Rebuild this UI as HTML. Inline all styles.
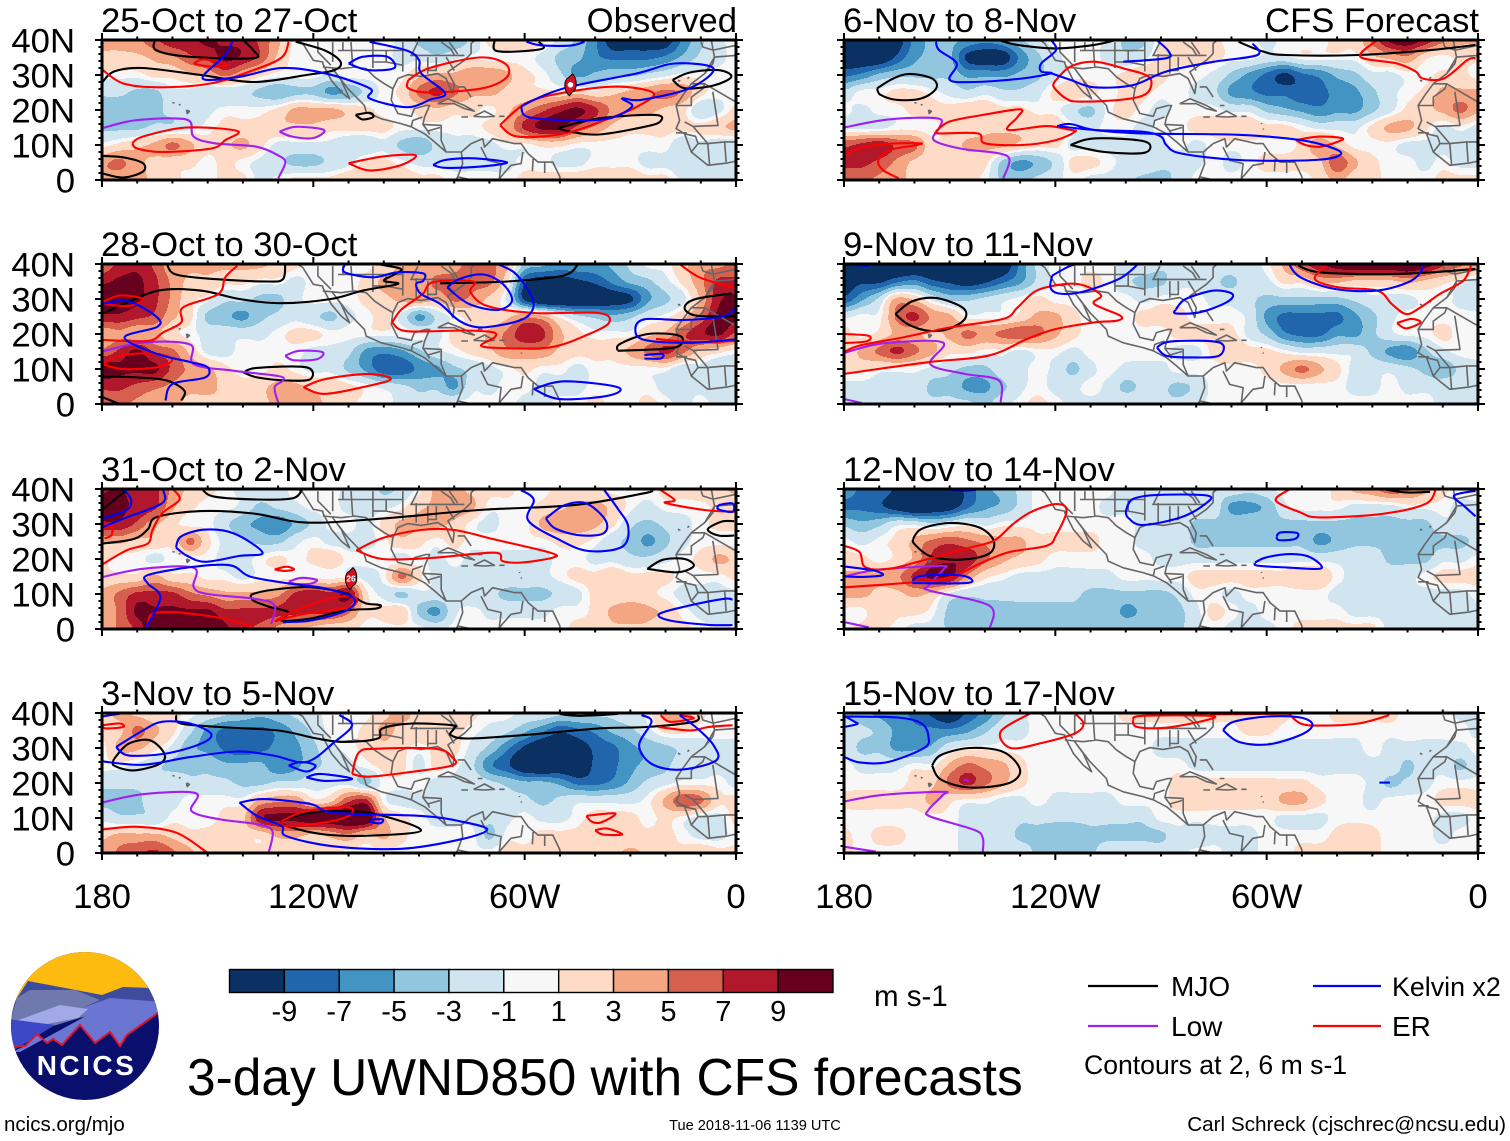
<!DOCTYPE html>
<html lang="en">
<head>
<meta charset="utf-8">
<title>3-day UWND850 with CFS forecasts</title>
<style>
html,body{margin:0;padding:0;background:#fff;width:1510px;height:1141px;overflow:hidden}
svg{display:block;font-family:"Liberation Sans",sans-serif}
</style>
</head>
<body>
<svg id="chart" xmlns="http://www.w3.org/2000/svg" width="1510" height="1141" viewBox="0 0 1510 1141">
  <rect x="0" y="0" width="1510" height="1141" fill="#fff"/>
  <g id="panels"></g>
  <g font-size="34.7" fill="#000">
    <text x="101" y="32">25-Oct to 27-Oct</text>
    <text x="737" y="32" text-anchor="end">Observed</text>
    <text x="101" y="256">28-Oct to 30-Oct</text>
    <text x="101" y="481">31-Oct to 2-Nov</text>
    <text x="101" y="705">3-Nov to 5-Nov</text>
    <text x="843" y="32">6-Nov to 8-Nov</text>
    <text x="1479" y="32" text-anchor="end">CFS Forecast</text>
    <text x="843" y="256">9-Nov to 11-Nov</text>
    <text x="843" y="481">12-Nov to 14-Nov</text>
    <text x="843" y="705">15-Nov to 17-Nov</text>
  </g>
  <g id="colorbar"></g>
  <text x="874" y="1006" font-size="29.5">m s-1</text>
  <g>
    <line x1="1088" x2="1158" y1="986" y2="986" stroke="#000" stroke-width="2.2"/>
    <text x="1171" y="996" font-size="28">MJO</text>
    <line x1="1088" x2="1158" y1="1026" y2="1026" stroke="#a020f0" stroke-width="2.2"/>
    <text x="1171" y="1036" font-size="28">Low</text>
    <line x1="1313" x2="1381" y1="986" y2="986" stroke="#0000ff" stroke-width="2.2"/>
    <text x="1392" y="996" font-size="26.8">Kelvin x2</text>
    <line x1="1313" x2="1381" y1="1026" y2="1026" stroke="#ff0000" stroke-width="2.2"/>
    <text x="1392" y="1036" font-size="28">ER</text>
    <text x="1084" y="1074" font-size="26.6">Contours at 2, 6 m s-1</text>
  </g>
  <text x="187" y="1095" font-size="51.5">3-day UWND850 with CFS forecasts</text>
  <text x="4" y="1131" font-size="20.5">ncics.org/mjo</text>
  <text x="755" y="1130" font-size="14.6" text-anchor="middle">Tue 2018-11-06 1139 UTC</text>
  <text x="1506" y="1131" font-size="20.7" text-anchor="end">Carl Schreck (cjschrec@ncsu.edu)</text>
  <g>
    <defs><clipPath id="logo-clip"><circle cx="85" cy="1026" r="74"/></clipPath></defs>
    <g clip-path="url(#logo-clip)">
      <rect x="10" y="950" width="150" height="152" fill="#0a0f6e"/>
      <rect x="10" y="950" width="150" height="55" fill="#fdba0f"/>
      <polygon points="8,1012 28,981 60,987 102,995 123,987 152,988 162,1012 90,1018" fill="#3f4c9e"/>
      <polygon points="10,1022 17,998 30,990 75,990 100,1000 82,1008 86,1016 40,1030" fill="#7079ad"/>
      <polygon points="162,1002 110,998 82,1008 86,1016 20,1052 12,1052 25,1046 37,1034 47,1043 53,1039 62,1045 80,1025 95,1043 110,1032 120,1046 127,1035 162,1010" fill="#6b76d3"/>
      <polygon points="16,1021 60,1005 88,1009 78,1018 42,1025 16,1023" fill="#a3a9e6"/>
      <polygon points="8,1019 55,1025 14,1050 8,1050" fill="#3c48c6"/>
      <polyline points="12,1046 25,1046 37,1034 47,1043 53,1039 62,1045 80,1025 95,1043 110,1032 120,1046 127,1035 162,1010" fill="none" stroke="#e0142c" stroke-width="2"/>
    </g>
    <text x="86.5" y="1075" text-anchor="middle" font-size="28" font-weight="bold" letter-spacing="2.5" fill="#fff">NCICS</text>
  </g>
</svg>
<script>
/* Zonal wind anomaly: rows 40N,35N,...,0; columns 180,175W,...,0 */
const panel1Values=[
[3,3,4,6,8,8,9,8,8,6,3,0,0,0,0,0,0,-1,-3,-4,-4,-2,1,2,2,1,-1,-3,-6,-10,-10,-10,-10,-6,-3,-1,0],
[2,2,2,3,4,6,7,9,8,6,2,0,0,0,0,0,0,-1,-1,-2,-1,0,0,0,0,-1,-3,-4,-6,-7,-7,-7,-6,-4,-2,-1,0],
[0,0,0,1,1,2,3,5,3,1,0,0,0,-1,0,0,0,0,2,3,3,4,4,3,1,0,-2,-5,-4,-3,-3,-2,-1,0,0,0,0],
[-2,-2,-3,-3,-1,-1,-2,-2,-2,-3,-4,-3,-3,-5,-4,-2,0,1,5,7,5,3,3,2,1,1,1,2,1,2,3,4,5,4,1,0,0],
[-4,-4,-4,-3,-2,-2,-1,0,0,0,1,3,3,3,2,1,0,0,1,2,1,1,0,2,4,6,8,9,7,4,3,3,2,1,-2,-1,1],
[-3,-3,-3,-2,-2,-1,0,1,1,1,2,2,2,1,1,1,1,0,0,0,0,0,1,3,7,9,9,6,4,2,1,1,1,1,1,2,3],
[0,1,2,3,5,3,1,2,3,1,-1,-1,-1,-1,-2,-2,-1,-3,-4,-2,-1,-1,-1,0,0,1,1,0,0,0,0,0,0,-2,-1,-2,-2],
[4,5,3,2,1,1,0,1,0,-1,-2,-3,-3,-2,-1,1,1,0,-1,-1,-1,-1,-1,-1,0,0,-1,-1,0,0,0,-1,-1,-2,-2,-2,-2],
[4,3,3,2,1,0,0,1,1,-1,0,1,1,1,2,2,2,2,1,1,0,0,0,0,1,1,2,2,2,2,2,1,1,-1,-2,-2,-2]];
const panel2Values=[
[5,7,8,6,3,3,3,3,3,3,2,1,0,0,0,0,1,3,4,3,4,5,5,3,-3,-4,-5,-5,-5,-4,-2,0,0,2,4,4,5],
[8,9,9,7,4,2,2,1,1,0,0,-1,0,0,0,1,3,3,3,5,5,5,5,1,-8,-10,-10,-9,-8,-6,-4,-3,-1,1,4,7,7],
[11,10,9,7,4,1,0,-2,-2,-3,-3,-1,0,0,0,1,2,3,4,3,5,4,2,-1,-9,-12,-12,-12,-11,-10,-9,-5,-3,-1,3,8,9],
[8,8,7,6,3,1,-3,-4,-5,-3,-2,-1,-2,-3,-1,0,1,-1,-5,-2,0,1,1,2,4,3,0,-2,-3,-4,-3,-1,0,2,5,9,9],
[3,4,3,3,1,0,-1,-1,-1,-1,0,1,1,0,0,0,0,0,0,-1,1,1,3,5,8,7,3,1,0,0,0,2,3,6,8,9,6],
[5,7,9,6,5,2,-1,-1,0,0,0,0,-1,-1,-2,-5,-6,-5,-3,-1,0,1,2,4,4,4,2,1,1,1,3,5,7,5,2,1,0],
[10,9,9,9,6,4,3,1,0,0,1,0,-1,-1,-3,-5,-8,-8,-6,-5,-3,-2,-1,0,1,0,0,-1,0,0,0,0,0,-2,-1,-2,-2],
[7,7,6,5,4,3,3,2,1,2,3,3,2,2,1,0,-1,-2,-3,-3,-5,-1,-1,0,0,-1,-1,-1,0,0,0,0,-1,-1,-1,-2,-2],
[5,5,4,3,3,2,2,2,1,2,3,4,3,2,1,0,0,-1,-2,-1,0,0,0,0,-1,-1,0,0,1,0,0,1,0,-1,0,-1,-1]];
const panel3Values=[
[8,9,7,7,4,2,1,0,-1,-1,-1,0,0,0,-1,-1,-3,-2,0,3,3,2,1,1,0,0,1,1,1,0,0,0,1,1,2,2,3],
[10,9,8,7,3,1,0,0,-1,-3,-2,-1,0,0,-1,-1,-1,0,2,3,4,3,0,0,0,1,2,3,3,2,0,-1,0,0,0,1,1],
[8,8,6,3,1,0,0,-2,-4,-5,-6,-4,-2,0,0,-1,1,3,3,3,2,0,-1,0,0,3,4,4,3,1,-2,-3,-2,-1,0,1,1],
[3,3,2,2,1,5,1,-1,-2,-3,-3,-1,0,-1,-1,-1,0,2,1,0,1,0,0,0,0,0,1,1,0,-2,-3,-5,-3,-1,0,0,0],
[1,0,0,-1,0,0,0,-1,-1,0,1,0,1,2,0,0,0,-1,0,-1,0,-1,-1,-1,-1,-1,0,0,-1,-1,-2,-2,-1,0,1,3,2],
[1,1,1,3,1,1,0,0,-1,0,0,0,0,0,0,-1,0,5,1,-1,-1,-1,-1,-1,-1,-1,0,1,1,2,1,1,1,0,0,0,1],
[3,5,7,7,7,5,4,3,3,3,4,7,8,7,9,1,-1,-3,-1,-1,-1,-2,-2,-3,-3,-3,-2,-1,1,1,1,1,0,-1,-1,-1,-1],
[3,5,9,9,9,9,9,7,7,7,7,7,7,7,5,1,1,2,-3,-5,-1,0,-1,-1,-1,-1,0,0,1,3,4,3,2,0,-1,-2,-2],
[3,5,7,11,11,11,11,9,7,6,4,3,2,1,1,0,0,0,0,-1,0,0,0,0,0,0,0,1,1,2,2,2,1,1,0,0,0]];
const panel4Values=[
[2,3,2,1,1,0,-1,-2,-3,-4,-3,-2,-1,0,0,0,2,3,2,2,2,1,0,0,-1,-1,-2,-2,-2,-2,-1,0,3,4,1,0,0],
[1,2,5,3,1,-2,-5,-7,-7,-7,-6,-4,-2,0,0,1,3,2,2,2,1,0,-1,-2,-4,-6,-8,-7,-6,-4,-3,-1,1,1,0,0,0],
[0,3,3,1,-1,-4,-5,-7,-8,-7,-6,-5,-3,-1,0,1,2,1,0,1,1,-1,-3,-6,-9,-11,-11,-10,-8,-7,-5,-4,-3,-2,-1,-1,-1],
[0,0,-1,-2,-3,-3,-3,-4,-4,-4,-6,-5,-3,-2,-1,0,1,1,-1,1,0,-2,-6,-8,-11,-12,-11,-11,-8,-7,-5,-4,-3,-1,-1,-1,-1],
[-2,-2,-2,-2,-1,-2,-2,-2,-3,-3,-2,-2,-1,-1,-1,-3,0,0,0,-1,-1,-1,-2,-3,-4,-4,-5,-7,-7,-6,-4,-2,-1,0,0,0,-1],
[-3,-3,-3,-1,-1,0,0,0,0,3,4,4,1,2,6,7,0,-1,-1,-1,-1,-1,-1,-2,-2,-3,-2,-1,-1,-1,-1,0,3,6,5,1,1],
[-1,-2,-2,-2,0,0,0,1,2,8,9,9,10,10,11,11,3,1,0,-1,-1,-1,-2,-1,0,-1,-1,0,1,1,1,0,1,0,-1,-1,1],
[2,3,3,3,2,1,1,1,1,1,3,3,2,3,4,2,3,1,0,0,0,0,-3,0,0,1,1,1,1,1,1,1,1,0,-1,-1,0],
[3,5,6,7,5,3,1,1,1,1,1,1,1,1,0,0,0,0,0,0,0,0,0,1,1,1,2,2,2,2,3,2,1,1,2,1,1]];
const panel5Values=[
[-11,-12,-12,-10,-6,-4,-4,-5,-6,-5,-3,-1,0,0,0,-1,-3,-3,1,2,2,1,0,0,-1,0,0,0,1,1,5,9,10,8,5,3,3],
[-11,-11,-11,-8,-5,-4,-4,-9,-10,-10,-6,-3,-1,0,0,-1,-2,-1,1,1,1,1,0,0,-1,-1,0,0,0,0,2,3,4,1,0,1,1],
[-7,-6,-4,-3,-3,-3,-3,-5,-5,-5,-4,-3,-1,0,0,0,1,2,1,0,0,-1,-3,-5,-7,-9,-7,-6,-4,-3,-1,-1,0,0,1,1,0],
[-2,0,0,1,1,0,-1,-2,-1,-2,-2,-1,1,2,1,0,1,1,0,0,-1,-2,-5,-6,-7,-7,-8,-7,-6,-5,-3,-1,0,1,3,3,3],
[0,-1,0,0,1,1,1,2,2,1,1,0,0,-2,-3,0,1,0,-1,0,0,0,-1,-1,-3,-4,-5,-6,-5,-5,-3,-1,1,2,3,5,3],
[-1,-1,-1,0,0,0,1,1,2,2,2,2,2,0,-1,0,0,-1,0,0,1,1,2,2,1,1,0,-1,-1,-1,1,3,3,1,-1,0,-1],
[6,7,8,6,5,1,1,3,3,3,2,1,1,-1,-1,-1,-1,-1,-1,0,-1,0,0,0,0,0,1,4,2,0,0,0,-1,-1,-1,-1,-1],
[7,7,6,4,2,1,1,1,1,-3,-5,-4,-2,1,1,0,-1,-1,-2,-2,-1,0,-1,0,1,1,1,2,6,3,1,0,0,-1,0,-1,-1],
[5,5,4,3,2,1,1,1,0,-3,-3,-2,-1,0,-1,-1,-2,-3,-3,-2,0,0,0,0,0,0,0,1,3,1,1,0,0,0,1,1,1]];
const panel6Values=[
[-11,-12,-12,-12,-12,-12,-12,-12,-12,-11,-6,-2,0,0,0,0,-1,-1,-2,-2,-1,-1,-1,-1,0,3,6,8,10,11,11,11,12,10,7,5,3],
[-10,-9,-9,-7,-6,-8,-9,-10,-9,-7,-5,-2,0,0,1,0,-2,-3,-3,-1,-1,-2,-3,-1,-1,1,1,3,3,2,2,2,3,2,1,0,-1],
[-8,-5,-2,3,2,-1,-3,-3,-2,-1,0,1,0,0,0,0,0,-1,0,0,0,-1,-1,-2,-3,-3,-3,-3,-3,-2,-1,-1,-1,0,0,-1,-2],
[-1,0,0,5,7,4,3,0,0,0,1,3,3,1,0,0,0,1,1,1,0,0,0,-1,-5,-7,-7,-7,-7,-5,-3,-1,0,0,0,0,0],
[1,0,1,3,3,2,3,5,4,5,6,5,3,1,0,0,0,0,0,1,1,1,1,-1,-3,-6,-7,-7,-5,-5,-3,-1,0,0,1,0,0],
[1,3,5,7,5,3,1,1,0,0,-1,0,0,-1,0,0,0,0,0,-1,-1,1,2,1,1,0,-1,-1,-1,-1,-3,-5,-6,-3,-1,0,0],
[1,1,0,0,0,-1,-2,-3,-3,-1,-1,0,-1,-3,-1,0,-1,-1,-1,0,0,0,0,0,1,3,5,3,1,-1,-1,-1,-2,-3,-4,-2,-1],
[-1,-1,-1,-1,-1,-3,-3,-5,-5,-3,-1,0,-1,-1,0,-1,-3,-2,-2,-3,-2,0,0,0,0,0,0,0,0,-1,-1,0,-1,-1,-1,-1,-1],
[-1,-1,-1,-1,-1,-2,-2,-2,-3,-1,0,1,0,-1,-1,-1,-1,-1,-2,-2,-1,0,0,0,0,0,0,0,0,0,0,0,0,0,-1,-1,-1]];
const panel7Values=[
[-5,-7,-7,-9,-11,-11,-10,-8,-5,-4,-2,0,0,0,0,0,-2,-2,-2,-2,-2,-2,-1,-2,-1,0,0,0,1,3,4,6,5,3,1,0,1],
[-7,-7,-8,-10,-12,-11,-10,-7,-5,-4,-2,0,0,0,0,-1,-1,-1,-1,-1,-1,-1,-5,-5,-4,-1,0,0,0,-1,-1,-1,0,0,0,-1,-1],
[-3,-4,-3,-1,-1,-2,-1,0,-1,0,0,0,0,0,0,0,0,-1,-1,-1,-3,-3,-3,-3,-3,-3,-3,-3,-3,-3,-3,-3,-3,-3,-1,-1,-1],
[0,-1,0,1,3,5,6,5,4,3,3,1,1,1,1,0,0,-1,-1,-1,-3,-3,-3,-3,-3,-3,-3,-5,-4,-3,-3,-3,-3,-3,-3,-3,-2],
[1,1,0,1,3,7,8,8,5,3,2,1,0,0,0,0,0,0,-1,-1,-1,-1,-1,-1,-1,-1,-1,-1,-1,-1,-1,-3,-3,-3,-1,-1,0],
[3,3,3,4,7,9,9,4,1,0,-1,-1,-1,-1,-1,-1,0,0,0,0,1,1,1,1,1,1,2,2,0,-1,-1,-1,-1,0,1,1,1],
[3,3,2,2,3,2,-1,-2,-2,-2,-2,-2,-2,-2,-3,-3,-3,-3,-3,-2,0,0,-1,0,0,0,0,0,-1,-1,-1,-1,-1,-1,-1,-1,0],
[0,0,2,1,1,0,-3,-3,-3,-3,-3,-3,-3,-3,-3,-3,-5,-4,-3,-3,-1,1,0,-1,0,0,0,0,0,-1,-1,-1,-1,-1,-1,-1,-1],
[0,1,1,0,-1,-1,-3,-3,-3,-3,-3,-3,-3,-3,-3,-3,-3,-3,-3,-3,-1,0,-1,-1,-1,0,1,1,1,1,1,-1,-1,-1,-1,-1,-1]];
const panel8Values=[
[-3,-4,-5,-6,-7,-9,-11,-8,-6,-3,-1,0,0,0,0,0,1,1,1,1,1,1,1,1,2,1,0,0,1,1,1,1,0,0,0,-1,-1],
[-1,-2,-3,-5,-6,-6,-6,-5,-3,-1,-1,0,0,0,0,0,0,0,0,0,0,0,0,1,1,0,0,0,0,0,0,0,0,0,0,0,-1],
[-1,-3,-3,-5,-5,-4,-1,0,0,0,0,0,0,0,0,0,0,0,-1,-1,-1,-1,-1,-1,-1,-1,-1,-1,-1,-1,0,-1,-1,-1,-1,-1,0],
[0,-1,-1,-1,0,0,3,5,4,3,1,0,0,0,0,0,0,0,0,0,-1,-1,-1,-1,-1,-1,-1,-1,-1,-1,-1,-1,-3,-1,-1,-3,-1],
[0,0,0,0,1,2,5,7,5,3,1,0,0,0,0,0,0,0,0,1,1,1,1,1,1,1,1,0,0,0,-1,-3,-2,-1,0,0,0],
[1,1,1,1,1,3,1,0,0,-1,-1,0,-1,-1,-1,-1,0,0,0,1,1,1,1,1,1,3,3,1,0,0,-1,0,0,0,1,1,1],
[0,0,0,0,0,0,0,-1,-1,-1,-2,-2,-2,-2,-2,-2,-2,-2,0,0,0,0,0,0,0,-1,-1,-1,0,0,0,0,0,0,-1,-1,0],
[1,0,1,1,0,0,0,-1,-1,-1,-3,-3,-4,-4,-3,-3,-3,-3,-3,-1,-2,-1,-1,-1,0,0,0,0,1,2,1,0,0,0,-1,0,0],
[1,0,0,0,0,0,0,-1,-1,-1,-1,-3,-3,-3,-3,-1,-1,-1,-1,-1,0,0,-1,-1,0,0,1,1,1,1,1,0,0,0,0,0,0]];

/* Filtered-wave contours: each vertex is [degrees west, degrees north] */
const panel1Mjo=[
[[165,40],[164.5,37],[155,35.2],[137,34.8],[137,37],[140,40]],
[[180,27.8],[176.6,31],[168.4,32],[152,30],[137,28],[122,30],[114,31.4],[112.3,33.8],[116.7,37],[125,39.5]],
[[108,18.6],[104,19.2],[103,18],[106,17.3],[108,18.6]],
[[68.5,40],[68.3,37],[62,36.7],[54.8,37.6],[56,39.5]],
[[50.6,14.8],[39,17.6],[23,18.6],[21.5,16.7],[26,15.2],[39,13],[47,13.8],[50.6,14.8]],
[[18,28.6],[13.2,30.7],[5,31.4],[1.3,29.5],[6.4,27],[14.5,26.2],[18,28.6]],
[[180,6.9],[174,6.5],[168.4,4.8],[168.4,2.4],[174,0.7],[180,1.9]]];
const panel1Er=[
[[127,39.5],[129,35],[137,31.4],[149,27.6],[164,26.5],[174,27.6],[180,31.6]],
[[154,33.3],[151,34.5],[144.6,32.9],[149.3,32.4],[154,33.3]],
[[171.4,10.5],[168.4,12.4],[156,15],[141.6,14],[145,11.4],[149,9],[163,8],[170,9],[171.4,10.5]],
[[110,4.8],[100.3,6.7],[91,7.1],[95,4.3],[104,2.7],[110,4.8]],
[[93,28.6],[87,32],[73,35],[65.6,33.3],[65,29.5],[72,26.2],[87,25],[93,26.2],[93,28.6]],
[[67,15.7],[59.5,22],[48.6,25],[33.6,26.7],[23.4,24.8],[28,21],[36,17.6],[48.6,13.3],[62,12.4],[67,15.7]]];
const panel1Kelvin=[
[[143,39.5],[145,35.7],[151.4,29],[141,29.5],[129,32],[116.7,30.5],[104,26.2],[104,23.3],[93.5,20.8],[86.7,23],[82.6,24.8],[89.4,30.5],[90,34.3],[93.5,37],[104,39.5]],
[[110,33.3],[106,35.2],[99,35.2],[97,32],[104.5,31.4],[110,33.3]],
[[86,4.3],[82.6,5.7],[74.5,6.2],[65,5],[73,3.8],[82.6,3.5],[86,4.3]],
[[59.5,39.5],[55.4,38.5],[47,38.4],[43,39.5]],
[[61,21],[55.4,23.8],[47,26.7],[28,30.5],[17.4,33.3],[6.4,31.9],[13.2,26.2],[27,22.9],[32.3,23.3],[29.5,21],[36,17.6],[47,17.1],[59,18],[61,21]]];
const panel1Low=[
[[180,14.8],[171,17],[160,17.6],[155,16.7],[154,12.4],[148,10.5],[136,9.5],[129.4,6.7],[128,4.8],[130,0.5]],
[[129.6,13.8],[125,15.2],[117,14.3],[120,12],[126,12.4],[129.6,13.8]]];

const panel2Mjo=[
[[161.6,40],[159,37],[148,35.7],[133,35],[128.6,35.7],[128,40]],
[[180,25.7],[175,28],[164,32.4],[152,32.4],[141,30],[129,28.8],[115,30],[106,32.4],[96,34.3],[100,35.2],[97,37],[95,38.5],[99,39.5],[102,40]],
[[84,34.5],[65,35],[49,36.7],[44.8,40]],
[[33.6,15.2],[33,17.1],[25,20],[16,19.5],[16,16.7],[21.4,15.7],[33.6,15.2]],
[[1.2,31.6],[11.4,30],[14.6,27.6],[12,25.4],[4.9,25],[0,25.2]],
[[139.8,9],[136,10.3],[122,10.5],[120.8,7.1],[127.6,6.7],[136,7.6],[139.8,9]],
[[180,7.9],[170,7.6],[161.6,6.7],[156.6,3.8],[157.5,1]],
[[180,2],[175,0]]];
const panel2Er=[
[[180,18.3],[167,18],[162.6,20.5],[157.5,23.3],[157,27.6],[147,31.4],[145,36.2],[141.6,39.5]],
[[180,29],[175,31],[168.4,30],[172.4,28],[180,28.6]],
[[180,11.4],[174,14],[164.4,14.3],[160,12.6],[164.4,10.5],[174,10],[180,11.4]],
[[122.8,4.8],[116.7,7.1],[104.4,8.6],[98,7.1],[106,4.8],[117,2.9],[122.8,4.8]],
[[97.6,23.3],[95,27],[89,31.4],[86,34.8],[74.6,35],[75.4,32],[70.6,28],[57.4,26],[39,26],[36,23.3],[41.7,20],[52.6,16.2],[67,16],[72.4,16.7],[68.6,19],[69,20.5],[77.2,21],[93.5,20.8],[97.6,23.3]],
[[16,40],[10.4,36.2],[1,33.3]],
[[22.7,18.6],[12,17.7],[0,18]]];
const panel2Kelvin=[
[[111,40],[111,37.6],[103,36.2],[96.3,37.6],[88.8,37.3],[88.8,35.2],[90.8,34.3],[89.4,31.4],[84,28.6],[78.6,23.8],[73,21.9],[65,22.9],[59.5,24.8],[57.4,28.6],[59.5,33.3],[63,37.6],[67.7,40]],
[[82,33.3],[78.6,35.7],[71.7,37],[66.2,34.3],[63.6,29.5],[67.7,26.9],[75.8,28.6],[82,33.3]],
[[180,28.6],[172.5,29.3],[164.4,24.8],[164.4,22],[173.6,19],[164.4,14.3],[155,12],[150,10.5],[150.7,7.6],[160,5.7],[162,1]],
[[0,27.5],[3.8,25],[14.6,24],[26,24.2],[28.6,21.3],[26,18.3],[13,17.5],[0,18.5]],
[[57.4,4.3],[48.6,6.5],[33.6,4.8],[36.2,2.4],[50,1.4],[57.4,4.3]],
[[26,14],[21,14.3],[21.4,13],[26,13]]];
const panel2Low=[
[[180,15],[168,17.6],[155,17],[154,11.4],[142.5,9.5],[130,8],[128.6,6.7],[131,4.8],[130,0.5]],
[[128,13.8],[124,15.2],[117.4,14.8],[119,12.8],[125.5,12.5],[128,13.8]]];

const panel3Mjo=[
[[151.4,39.7],[148,37.8],[136,37],[126,37.3],[123.2,39.7]],
[[180,24.4],[171,25.7],[167,28.5],[164.4,32],[152,33.7],[137,33],[122,30.4],[100,31.6],[73,34],[46,35.4],[26,38.8],[24,39.7]],
[[180,34],[173,39.7]],
[[137.8,9.8],[133,11],[122,12],[112.6,10.7],[108,8.8],[105,7.3],[101,6.8],[102.4,5.8],[111,5.3],[120.8,3],[129,2.4],[127,4.8],[132,6.2],[137,8.1],[137.8,9.8]],
[[25.2,17.2],[20.7,19.8],[14.6,20],[12,18],[16.6,16.2],[25.2,17.2]],
[[0.5,30.8],[4,30.7],[8,28.5],[5,26.7],[0.5,26.7]]];
const panel3Er=[
[[180,18.4],[173,22.5],[167,24.4],[165.7,28.2],[163,33],[158,36.9],[159.6,39.7]],
[[180,28.7],[177.3,29.2],[177.3,26.8],[179.3,25.9]],
[[131,17],[127.6,17.8],[125.5,17],[128.3,16.6],[131,17]],
[[107.8,22.5],[100.3,26],[89.4,28.3],[80,28.3],[68.6,25.6],[52.7,21.8],[52,20.4],[60.8,19],[66.3,19.4],[68.6,21.8],[86.7,20.3],[100.3,20],[107.8,22.5]],
[[167,1.4],[165.7,4.3],[159,4.8],[145,2.9],[137,0.5]],
[[131,2.2],[125,5.3],[114,9],[108,9],[110,6.2],[122.8,4.3],[131,2.2]],
[[21.4,39.7],[17.4,36.8],[20,36],[9,34],[0,33.5]]];
const panel3Kelvin=[
[[180,29],[174,31.5],[163,35.9],[162.6,39.7]],
[[180,31.5],[173,34],[171.7,36.8],[173.5,39.7]],
[[159,23.3],[157.5,26.5],[150.7,28.4],[142.5,27.3],[134.4,21.8],[141,20.9],[150.7,19.2],[156,21],[159,23.3]],
[[61,39.7],[57.4,36.9],[59,31],[50,25.4],[41.9,22.3],[32.3,23.5],[30.6,29.2],[33.6,34.4],[37.4,39.7]],
[[54,31.6],[48.6,35.4],[42.5,35.9],[37,31],[37.7,27.3],[44.5,26.8],[51.3,28.7],[54,31.6]],
[[167.4,0.5],[163.4,9],[167,13],[167,15.4],[154.6,17.7],[143.6,18.2],[138,15],[127,13],[116.7,11.6],[108.5,8.8],[110.6,5.3],[120.8,2.4],[128.6,2]],
[[1,8.4],[3.6,8.6],[13.2,6.7],[21.8,4.3],[18.6,2.4],[8,1.2],[1,1.1]],
[[5,35.4],[1,35.9],[1,33.5],[5,34.2],[5,35.4]]];
const panel3Low=[
[[180,14.8],[168.4,17.2],[154,17.5],[154,12],[150,10],[136.4,8.6],[131,6.7],[132,1.4]],
[[127,13.5],[123.5,14.6],[119,14],[121,12.9],[125,12.9],[127,13.5]]];

const panel4Mjo=[
[[159,39.4],[157.6,37],[146.6,36],[130,35],[119,32.7],[111,31.7],[101.7,32.7],[100.4,35.6],[92,37],[80.5,36.5],[80,35.6],[81,33.7],[75.8,32.7],[59,33.8],[39,35.6],[25.5,36],[12,37.5],[10.7,39.4]],
[[50,39.7],[44.5,39.2],[33.6,39.7]],
[[176.6,26.9],[172.5,31.2],[166.4,32.2],[162.3,28.4],[163.6,25.5],[171,23.6],[176.6,25],[176.6,26.9]],
[[129,9.1],[122,11.3],[111.2,12],[101.7,11],[89.4,6.5],[103,5],[116.7,5.3],[127.6,7.7],[129,9.1]]];
const panel4Er=[
[[180,36.5],[175,37],[174,36],[179,35.6],[180,36.5]],
[[180,6.7],[170,7.5],[158.9,5.8],[150,0]],
[[109,22.6],[107,28.8],[101.7,29.8],[85.4,29.8],[80.6,27.4],[80.6,25],[93.5,23],[104.4,21.8],[109,22.6]],
[[129,9.1],[122,12],[110,13],[110,10.6],[117,8.7],[127.6,7.7],[129,9.1]],
[[42.5,10.6],[34.3,11.3],[38.4,8.7],[41,9],[42.5,10.6]],
[[40,6.5],[36.6,7],[32.3,5.3],[37.8,5.3],[40,6.5]],
[[21.4,39.4],[18.7,37.5],[12,38.5],[16,39.4]],
[[22,36],[13,35],[7.8,36],[1,36.5]]];
const panel4Kelvin=[
[[180,39],[175,39.8]],
[[176,30.3],[168.4,35],[163,37.5],[155,37],[149,34],[152,31.2],[162,28.4],[172.5,27.9],[176,30.3]],
[[180,26.2],[168.4,25.2],[155,27.4],[141.6,29],[131.6,27.9],[122,26],[114,31.7],[109,36.5],[112.6,39.4]],
[[127,25],[123.5,26],[119.4,25],[122,23.3],[127,25]],
[[122,21.6],[118,22.6],[109,21.2],[116.7,20.6],[122,21.6]],
[[141,14.4],[134,15.4],[120.8,14],[114,11.5],[89.4,10.6],[78.6,9.1],[70.6,6.7],[78.6,3.8],[95,1.2],[114,1.9],[127.6,4.8],[129,7.7],[136,10.6],[141,14.4]],
[[103.7,9.6],[100.3,9.6],[101,8.5],[103.7,8.9],[103.7,9.6]],
[[26.8,39.4],[24,37.5],[27.5,30.8],[24,25.5],[16,23.8],[5.7,26.4],[6.4,30.8],[11,35.6],[16,39.4]]];
const panel4Low=[
[[180,14.4],[168.4,16.8],[153.4,17.1],[154.6,12],[146.4,9.6],[135.7,8.2],[131.6,6.2],[132.7,0]],
[[124,14.2],[121,14.2]]];

const panel5Mjo=[
[[135.5,39.8],[130.7,38.6],[120,37.6],[109,38.6],[102.8,40]],
[[170.6,26.2],[166,29],[161.3,30.3],[155,29],[153.8,26.2],[158,23.3],[164.8,22.9],[169.6,24.3],[170.6,26.2]],
[[115.7,10],[109,11.9],[94.6,11],[94.6,7.8],[106,8],[115.7,10]],
[[68,39.5],[61,36.7],[54.5,35.7],[34,35.7],[13.6,37.1],[0.7,38.6]]];
const panel5Er=[
[[119.8,28.6],[115.7,32.4],[109,33.8],[100.7,31.9],[93.3,29.3],[94,24.8],[100.7,23],[113,22.4],[117,23.3],[120.5,26.7],[119.8,28.6]],
[[28.6,40],[33.4,35.2],[23,33.3],[17.7,31],[15.7,29],[9.7,29],[3,34.3],[0.7,34.8]],
[[154,13.8],[150,16.7],[140.5,18.6],[130,20.2],[130.7,18],[133.4,14.3],[122.5,15.4],[115.7,14.3],[114.4,13.8],[119.8,11.4],[129.4,10],[140,10.5],[142,13.3],[153,13.3],[154,13.8]],
[[180,6.7],[175.6,9],[167.5,10.3],[158.6,10.5],[159.3,10],[166.8,8.6],[170.2,5.7],[169,2.9],[164.5,0.5]],
[[51.7,11.4],[45,12.4],[38.4,11.9],[41,10.5],[45,9.5],[49,10],[51.7,11.4]]];
const panel5Kelvin=[
[[153.9,39.5],[153,37.1],[148,33.3],[150,28.6],[143,28],[129.4,29],[121.2,30.5],[124,31],[124,33.3],[119.8,37.1],[121.2,40]],
[[121.2,30.5],[115.7,28.6],[109,26.5],[98,27.1],[88.5,31],[74.9,33.8],[62.6,35.7],[64,39]],
[[91,39.8],[87.8,36.7],[88.5,34.8],[100.7,33.8]],
[[119.5,15.4],[115.7,16],[109,14.3],[95.3,13.3],[68,12.9],[50.4,11.4],[40.9,9],[39.2,7.1],[46.3,5.7],[68,5.7],[84.4,7.6],[88.5,10],[90,12.4],[95.3,13.8],[109,14.3],[119.5,15.4]]];
const panel5Low=[
[[180,15],[169,17.1],[158,17.8],[152.5,17.3],[153,14.8],[154.5,11.4],[147,9],[136,7.6],[133,5.7],[134.8,0.5]]];

const panel6Mjo=[
[[165.4,25.7],[160.7,29.3],[154,30.3],[146.4,27.6],[145.7,24.3],[150.5,21.4],[156.6,21],[162,22.9],[165.4,25.7]],
[[51,39.5],[44.8,37.6],[27,37.1],[13.6,37.6],[0.7,38.6]]];
const panel6Er=[
[[180,8.6],[156.6,11.9],[139,13.8],[128,18.6],[120,21.4],[109,23.3],[102.5,23.8],[101.5,25.2],[109,28.6],[107,31],[111.6,33.8],[117,34.3],[125.3,32.4],[130.7,27.6],[134.8,24.3],[149.8,21.9],[163.4,19],[175.6,16.7],[180,14.8]],
[[180,20],[173,19.5],[173.6,17.9],[180,17.4]],
[[43,39.8],[46.3,35.7],[39.5,33.3],[28.6,32.4],[24.5,28.6],[20.4,25.7],[16.3,27.6],[10.9,31.4],[4.2,35.2],[2,39.5]],
[[23,23.1],[19,24.3],[16.3,23.3],[20.4,21.6],[23,23.1]]];
const panel6Kelvin=[
[[180,39.8],[173,39.5]],
[[120.9,36.7],[115.7,39.5],[112,40]],
[[120.9,36.7],[121.4,33.3],[119.2,31.6],[113,31.9],[102,35.7],[96.7,39.8]],
[[85.8,27],[83,30],[75,32.4],[69.7,31.4],[71.5,29],[79,26.2],[85.8,25.9],[85.8,27]],
[[91.2,16.2],[87,17.9],[73.5,17.6],[73.5,13.8],[81.7,13.3],[88.5,13.8],[91.2,16.2]],
[[53.7,40],[50.4,36.2],[40.8,32.9],[28.6,32.4],[19,35.2],[15.6,39],[17,39.8]]];
const panel6Low=[
[[180,14.6],[169,17.3],[152,17.6],[155.5,11.4],[145.7,8.6],[136,6.7],[135.5,0.5]],
[[180,1.4],[175,0.3]]];

const panel7Mjo=[
[[160.4,25.7],[158,28.6],[150,30.3],[141.6,29],[137.5,25.2],[139,21.4],[147,19.8],[155.5,20.8],[160,24.3],[160.4,25.7]],
[[26,39.8],[20.4,39],[13.6,39.2]]];
const panel7Er=[
[[180,23.8],[175.6,22],[174,17.7],[167.5,17.1],[158,19.5],[145.7,22.9],[137.5,25.2],[132,30],[126.8,33.5],[119.8,35.7],[116.8,33.8],[119.8,26.7],[122.5,23.8],[133.4,21.9],[141.6,18.6],[149.8,14.8],[161,13.3],[180,11.9]],
[[53.7,39.8],[57.4,36.7],[50.4,33.3],[45,31.9],[27.2,32.9],[15,35.7],[12,39.8]]];
const panel7Kelvin=[
[[150,39.8],[146,39.5],[142.5,39.8]],
[[180,17.9],[171.6,16.7],[169,15.4],[174.3,14.9],[180,15]],
[[160.6,13.8],[158,15.2],[148,15.4],[143.9,14.3],[145.6,13.1],[160.6,13.1]],
[[100,33.8],[98,37.1],[91,38.3],[76.8,38.1],[77.5,35.7],[84.4,31.9],[95.3,29.7],[99.4,31.9],[100,33.8]],
[[57.2,26.5],[56,27.6],[51.3,27.4],[52,25.7],[56.5,25.4],[57.2,26.5]],
[[63.3,19],[60,20.5],[53,21.4],[47.6,20.5],[44.6,17.3],[54.5,17.6],[62.6,18.1],[63.3,19]],
[[0.7,39.5],[6.8,38.1],[4,35.2],[0.7,32.2]]];
const panel7Low=[
[[180,15],[170,17],[152.5,18],[151.8,17],[156,12.4],[155.8,11],[138.8,6.7],[138.5,0.5]],
[[180,2],[173,0.5]]];

const panel8Mjo=[
[[155,25],[152.5,28],[144.3,30],[134.8,28.9],[130,23.7],[133.4,19.9],[144.3,18.7],[152.5,21],[155,25]]];
const panel8Er=[
[[127.3,39.8],[135.5,34.7],[132.7,30],[124,31.4],[114.4,34.2],[112,37],[114.4,39.8]],
[[98,38],[95.3,39.2],[76.2,39.2],[77,38],[88.5,35.8],[96.7,36],[98,38]],
[[53.7,39.8],[50.4,37],[45,36.4],[34,37],[25.2,39.4]],
[[76.2,39.6],[53.7,39.8]]];
const panel8Kelvin=[
[[180,39.2],[177,37.5],[176.3,36.8],[180,36]],
[[180,39],[164.8,38.7],[158,37],[156,33.2],[157.3,30],[167.5,26],[175.6,25.9],[180,27.5]],
[[72.4,35.1],[69.4,37.5],[59.8,39],[50.4,38.7],[47,36.6],[50.4,33.7],[59.8,31],[68,31.8],[72.4,35.1]],
[[28,20.1],[25,20.1]]];
const panel8Low=[
[[180,14.7],[169,16.6],[152,17.5],[152,16.5],[156,12.3],[155.4,10.4],[143,6.6],[140.6,4.2],[140.6,0.4]],
[[180,1.8],[171,0.4]],
[[146,21],[144.5,20.6]]];

/* Tropical cyclone symbols: lon W, lat N, number */
const panel1Storms=[[47,27.2,'9']];
const panel3Storms=[[109.3,14.4,'26']];

/* Axes and colour scale */
const latTicks=[40,30,20,10,0];
const latTickLabels=['40N','30N','20N','10N','0'];
const lonTicks=[180,120,60,0];
const lonTickLabels=['180','120W','60W','0'];
const bandEdges=[-8.5,-6.5,-4.5,-2.5,-0.5,0.5,2.5,4.5,6.5,8.5];
const bandColors=['#0a3162','#2166ac','#4393c3','#92c5de','#d1e5f0','#f7f7f7','#fddbc7','#f4a582','#d6604d','#b2182b','#67001f'];
const barTickLabels=['-9','-7','-5','-3','-1','1','3','5','7','9'];

/* Map outlines: vertices are [degrees west, degrees north] */
const coastLines=[
[[124.5,40],[123,39],[120,34.2],[117.3,33.7],[117.3,33.2],[114.9,28.5],[112.1,25.1],[109.7,23.2],[112.1,28.5],[114.5,31.8],[110.2,26.1],[105.5,21.3],[105,19.4],[100.7,17.5],[95.1,16.1],[92.2,15.2],[88.4,13.2],[85.6,10.9],[82.3,8],[80,8],[78,8],[77.6,4.7],[79,0.9],[79.5,0]],
[[117.3,32.3],[112.1,31.8],[108.3,32.3],[105,31.8],[102.6,29.4],[99.8,27.5],[97.4,26.1],[96,29],[93.2,30.1],[89.4,29.6],[84.7,30.4],[82.3,29],[80.4,24.7],[80,27.5],[81.8,30.9],[77.1,34.2],[75.2,36.1],[75.2,39],[74,40]],
[[97.4,26.1],[97.9,22.8],[96,19],[92.2,18.2],[91.3,20.4],[88,21.3],[87,21.3],[88.4,18],[88.9,15.9],[83.7,15.6],[83.7,11.3],[82.3,8]],
[[92.2,15.2],[91.8,17],[89,18]],
[[88.9,15.9],[87.5,14],[84,15]],
[[87.5,14],[87,13]],
[[84.7,21.8],[81.8,23.2],[77.1,21.3],[74.3,19.7],[77.1,20.4],[80,21.8],[84.7,21.8]],
[[74.5,18.2],[71.4,19.7],[68.6,18.2],[71.4,18],[74.5,18.2]],
[[78,18],[76.1,18]],
[[67.2,18.2],[65.7,18.2]],
[[79,26.6],[77.1,26.6],[75.2,23.7]],
[[73.3,21.3],[72,21.3]],
[[61.5,16.3],[61.4,16]],
[[61,14.7],[60.9,14.4]],
[[156,20],[155.2,19.6],[155.8,19],[156,20]],
[[158.2,21.6],[157.7,21.4]],
[[160,22.1],[159.4,22]],
[[78,8],[75.2,10.4],[71.9,11.8],[71.4,9.4],[69.1,11.8],[62.9,10.4],[61,10.4],[59,7.5],[56.2,5.1],[52,5.1],[50,0.9],[50,0]],
[[72.4,9.4],[70.5,5.6],[66.7,4.7],[67.2,0.4]],
[[60.5,8],[61,4.7],[63.9,4.2],[67.2,0.4]],
[[57.6,6],[57.8,2.5]],
[[54.3,5.2],[54.3,2]],
[[79,0.9],[75,0]],
[[113,37],[94.6,37]],
[[92.5,35.6],[77.1,35.6]],
[[118.7,39.4],[118.7,36.6],[115,32.8]],
[[114.5,39.4],[114.5,33.7]],
[[111.6,39.4],[111.6,37]],
[[109.3,39.4],[108.8,32]],
[[103.1,39.4],[103.1,32]],
[[103.1,33.7],[99.3,33.7],[94.6,32.8]],
[[99.3,37],[99.3,33.7]],
[[94.6,39.4],[94.6,31]],
[[90.8,36],[90.8,30.4]],
[[87.5,35.1],[87.5,30.4]],
[[85.1,35.1],[85.1,31.3],[87.5,31.3]],
[[82.3,35.1],[80,31.3]],
[[90.3,39.4],[92.2,35.6]],
[[83.7,39.4],[81,37.5],[79.9,35.6]],
[[81.4,39.4],[79,36]],
[[9.9,39.4],[9.4,38],[6.5,37.1],[6.1,35.1],[8.9,30.4],[12.7,27.5],[15.1,24.2],[17,21.3],[16,17],[17,14.7],[14.6,13.2],[12.7,8],[8,4.2],[2.3,4.9],[0,5.4]],
[[6.1,35.1],[0,35.6]],
[[6.5,37.1],[0,38.5]],
[[9.9,40],[7,40],[6.5,37.1]],
[[17,21.3],[12.7,21.3],[12.7,23.7],[9.4,26.1],[8.9,27.5],[12.7,27.5]],
[[8.9,30.4],[6.6,33.2],[6.1,35.1]],
[[8.9,27.5],[0,22.3]],
[[6.6,25.2],[5.1,15.6],[12.2,15.3],[14.6,16.6]],
[[12.2,15.3],[8,10.4],[3.2,10.9],[0,10.9]],
[[8,10.4],[7.5,4.2]],
[[3.2,10.9],[2.8,5.1]],
[[12.7,8],[10.8,10.4],[8,10.4]],
[[14.6,13.2],[11.5,12.5],[10.8,10.4]],
[[17,13.5],[14,13.5]],
[[16.5,28.5],[15.8,28.2]],
[[13.8,29],[13.3,29.4]]];

const NS='http://www.w3.org/2000/svg';
const PLOT_W=634, PLOT_H=140;
const lineColors={mjo:'#000000',er:'#ff0000',kelvin:'#0000ff',low:'#a020f0'};
const panels=[
{x0:102,y0:40,v:panel1Values,mjo:panel1Mjo,er:panel1Er,kelvin:panel1Kelvin,low:panel1Low,storms:panel1Storms,left:true,bottom:false},
{x0:102,y0:264,v:panel2Values,mjo:panel2Mjo,er:panel2Er,kelvin:panel2Kelvin,low:panel2Low,storms:[],left:true,bottom:false},
{x0:102,y0:489,v:panel3Values,mjo:panel3Mjo,er:panel3Er,kelvin:panel3Kelvin,low:panel3Low,storms:panel3Storms,left:true,bottom:false},
{x0:102,y0:713,v:panel4Values,mjo:panel4Mjo,er:panel4Er,kelvin:panel4Kelvin,low:panel4Low,storms:[],left:true,bottom:true},
{x0:844,y0:40,v:panel5Values,mjo:panel5Mjo,er:panel5Er,kelvin:panel5Kelvin,low:panel5Low,storms:[],left:false,bottom:false},
{x0:844,y0:264,v:panel6Values,mjo:panel6Mjo,er:panel6Er,kelvin:panel6Kelvin,low:panel6Low,storms:[],left:false,bottom:false},
{x0:844,y0:489,v:panel7Values,mjo:panel7Mjo,er:panel7Er,kelvin:panel7Kelvin,low:panel7Low,storms:[],left:false,bottom:false},
{x0:844,y0:713,v:panel8Values,mjo:panel8Mjo,er:panel8Er,kelvin:panel8Kelvin,low:panel8Low,storms:[],left:false,bottom:true}];

function make(tag,attrs){
  const el=document.createElementNS(NS,tag);
  for(const k in attrs){el.setAttribute(k,attrs[k]);}
  return el;
}
function xAxis(p,lon){return p.x0+(180-lon)/180*PLOT_W;}
function yAxis(p,lat){return p.y0+(40-lat)/40*PLOT_H;}
function bandOf(v){
  let i=0;
  while(i<bandEdges.length&&v>=bandEdges[i]){i++;}
  return i;
}
function cubic(a,b,c,d,t){
  return b+0.5*t*(c-a+t*(2*a-5*b+4*c-d+t*(3*(b-c)+d-a)));
}
function cell(row,i){return row[Math.max(0,Math.min(row.length-1,i))];}
function smoothPath(p,pts){
  const q=pts.map(function(v){return [xAxis(p,v[0]),yAxis(p,v[1])];});
  let d='M'+q[0][0].toFixed(1)+' '+q[0][1].toFixed(1);
  for(let i=0;i<q.length-1;i++){
    const a=q[Math.max(0,i-1)],b=q[i],c=q[i+1],e=q[Math.min(q.length-1,i+2)];
    d+='C'+(b[0]+(c[0]-a[0])/6).toFixed(1)+' '+(b[1]+(c[1]-a[1])/6).toFixed(1)+' '+(c[0]-(e[0]-b[0])/6).toFixed(1)+' '+(c[1]-(e[1]-b[1])/6).toFixed(1)+' '+c[0].toFixed(1)+' '+c[1].toFixed(1);
  }
  return d;
}
function drawField(p,g){
  const rows=p.v;
  const paths=bandColors.map(function(){return [];});
  const nRows=rows.length;
  const nCols=rows[0].length;
  for(let py=0;py<PLOT_H;py++){
    const ry=(py+0.5)/PLOT_H*(nRows-1);
    const j=Math.floor(ry);
    const ty=ry-j;
    const line=[];
    for(let c=0;c<nCols;c++){
      const r0=rows[Math.max(0,j-1)],r1=rows[j],r2=rows[Math.min(nRows-1,j+1)],r3=rows[Math.min(nRows-1,j+2)];
      line.push(cubic(cell(r0,c),cell(r1,c),cell(r2,c),cell(r3,c),ty));
    }
    let start=0,current=-1;
    for(let px=0;px<=PLOT_W;px++){
      let b=-2;
      if(px<PLOT_W){
        const rx=(px+0.5)/PLOT_W*(nCols-1);
        const i=Math.floor(rx);
        const val=cubic(cell(line,i-1),cell(line,i),cell(line,i+1),cell(line,i+2),rx-i);
        b=bandOf(val);
      }
      if(b!==current){
        if(current>=0){
          paths[current].push('M'+(p.x0+start)+' '+(p.y0+py)+'h'+(px-start)+'v1h-'+(px-start)+'z');
        }
        start=px;
        current=b;
      }
    }
  }
  paths.forEach(function(list,idx){
    if(!list.length){return;}
    const band=make('path',{d:list.join(''),fill:bandColors[idx],'shape-rendering':'crispEdges'});
    
    
    g.appendChild(band);
  });
}
function drawAxes(p,g){
  const frame=make('rect',{x:p.x0,y:p.y0,width:PLOT_W,height:PLOT_H,fill:'none',stroke:'#000','stroke-width':3});
  
  
  g.appendChild(frame);
  let d='';
  for(let lon=0;lon<=180;lon+=10){
    const len=lon%60===0?7:3.5;
    const x=xAxis(p,lon);
    d+='M'+x+' '+p.y0+'v-'+len+'M'+x+' '+(p.y0+PLOT_H)+'v'+len;
  }
  for(let lat=0;lat<=40;lat+=2){
    const len=lat%10===0?7:3.5;
    const y=yAxis(p,lat);
    d+='M'+p.x0+' '+y+'h-'+len+'M'+(p.x0+PLOT_W)+' '+y+'h'+len;
  }
  const ticks=make('path',{d:d,fill:'none',stroke:'#000','stroke-width':2});
  
  
  g.appendChild(ticks);
  if(p.left){
    latTicks.forEach(function(lat,i){
      const t=make('text',{x:75,y:yAxis(p,lat)+12.5,'font-size':34.7,'text-anchor':'end'});
      t.textContent=latTickLabels[i];
      
      
      g.appendChild(t);
    });
  }
  if(p.bottom){
    lonTicks.forEach(function(lon,i){
      const t=make('text',{x:xAxis(p,lon),y:908,'font-size':34.7,'text-anchor':'middle'});
      t.textContent=lonTickLabels[i];
      
      
      g.appendChild(t);
    });
  }
}
function drawStorm(p,g,storm){
  const x=xAxis(p,storm[0]),y=yAxis(p,storm[1]);
  const s=make('g',{});
  
  
  const body=make('path',{d:'M'+(x+2)+' '+(y-11)+'C'+(x+7)+' '+(y-6)+' '+(x+7)+' '+(y+5)+' '+(x+2)+' '+(y+7)+'L'+(x-1)+' '+(y+11)+'C'+(x-7)+' '+(y+6)+' '+(x-7)+' '+(y-5)+' '+(x-2)+' '+(y-7)+'Z',fill:'#d81020',stroke:'#000','stroke-width':1});
  s.appendChild(body);
  const dot=make('circle',{cx:x,cy:y,r:storm[2].length>1?4.5:2.8,fill:storm[2].length>1?'#d81020':'#fff',stroke:'none'});
  s.appendChild(dot);
  const label=make('text',{x:x,y:y+3,'font-size':8.5,'font-weight':'bold','text-anchor':'middle',fill:'#fff'});
  label.textContent=storm[2].length>1?storm[2]:'';
  s.appendChild(label);
  g.appendChild(s);
}
const root=document.getElementById('panels');
panels.forEach(function(p,n){
  const g=make('g',{});
  
  
  const defs=make('defs',{});
  const clip=make('clipPath',{id:'clip-'+n});
  clip.appendChild(make('rect',{x:p.x0,y:p.y0,width:PLOT_W,height:PLOT_H}));
  defs.appendChild(clip);
  g.appendChild(defs);
  drawField(p,g);
  const inner=make('g',{'clip-path':'url(#clip-'+n+')'});
  
  
  let coast='';
  coastLines.forEach(function(line){
    line.forEach(function(v,i){
      coast+=(i?'L':'M')+xAxis(p,v[0]).toFixed(1)+' '+yAxis(p,v[1]).toFixed(1);
    });
  });
  const land=make('path',{d:coast,fill:'none',stroke:'#666','stroke-width':1.6,'stroke-linejoin':'round'});
  
  
  inner.appendChild(land);
  ['mjo','low','er','kelvin'].forEach(function(kind){
    p[kind].forEach(function(pts){
      const c=make('path',{d:smoothPath(p,pts),fill:'none',stroke:lineColors[kind],'stroke-width':2.1,'stroke-linejoin':'round'});
      
      
      inner.appendChild(c);
    });
  });
  g.appendChild(inner);
  p.storms.forEach(function(st){drawStorm(p,g,st);});
  drawAxes(p,g);
  root.appendChild(g);
});
const bar=document.getElementById('colorbar');
const BAR_X=229.5,BAR_W=603.5,BAR_Y=969.5,BAR_H=23;
const boxW=BAR_W/bandColors.length;
bandColors.forEach(function(col,i){
  const r=make('rect',{x:BAR_X+i*boxW,y:BAR_Y,width:boxW,height:BAR_H,fill:col,stroke:'#000','stroke-width':1.4});
  
  
  bar.appendChild(r);
});
barTickLabels.forEach(function(lab,i){
  const t=make('text',{x:BAR_X+(i+1)*boxW,y:1021,'font-size':29,'text-anchor':'middle'});
  t.textContent=lab;
  
  
  bar.appendChild(t);
});
</script>
</body>
</html>
